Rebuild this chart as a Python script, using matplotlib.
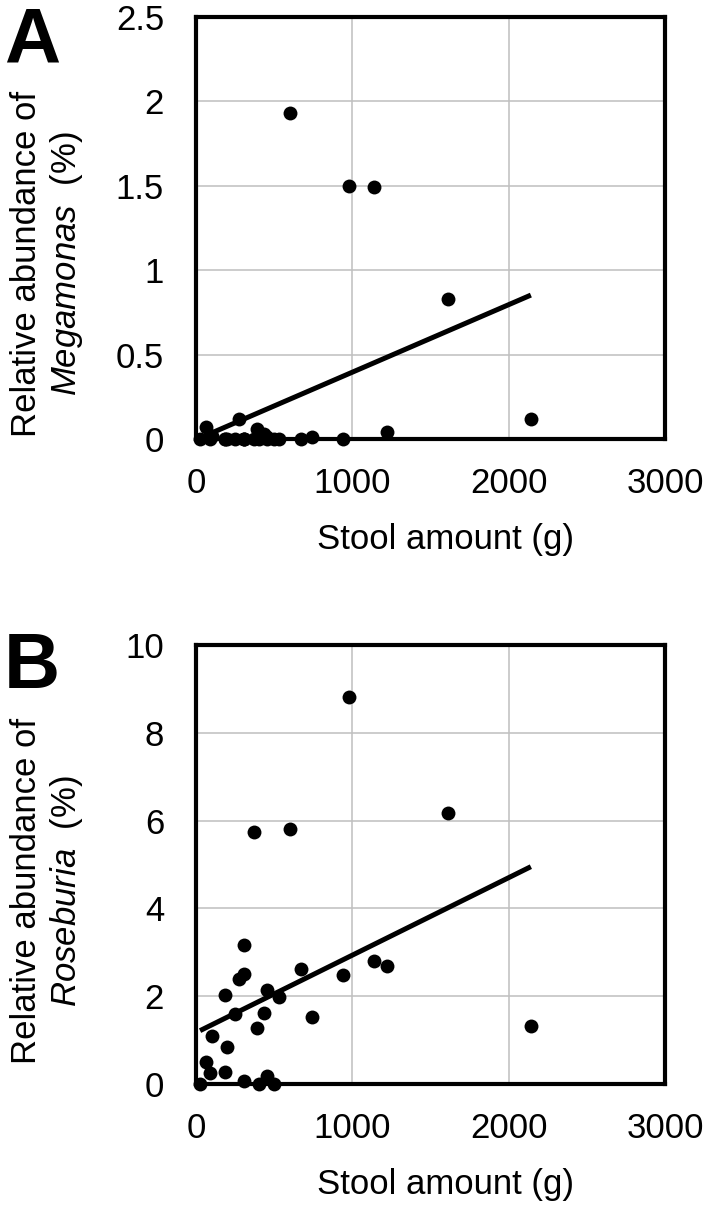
import numpy as np
import matplotlib

matplotlib.use("Agg")
import matplotlib.pyplot as plt

plt.rcParams["font.family"] = ["Liberation Sans", "DejaVu Sans"]
plt.rcParams["mathtext.fontset"] = "custom"
plt.rcParams["mathtext.it"] = "Liberation Sans:italic"
plt.rcParams["mathtext.rm"] = "Liberation Sans"

# stool amount (g), shared by both panels
stool_g = [26, 64, 90, 104, 183, 188, 200, 252, 272, 304, 307, 310, 368, 388, 403,
           432, 455, 455, 501, 533, 603, 670, 739, 939, 977, 1139, 1223, 1612, 2142]
# relative abundance (%) of Megamonas
megamonas = [0.0, 0.07, 0.0, 0.02, 0.0, 0.0, 0.0, 0.0, 0.12, 0.0, 0.0, 0.0, 0.0, 0.06, 0.0,
             0.03, 0.01, 0.0, 0.0, 0.0, 1.93, 0.0, 0.01, 0.0, 1.50, 1.49, 0.04, 0.83, 0.12]
# relative abundance (%) of Roseburia
roseburia = [0.0, 0.49, 0.25, 1.09, 2.03, 0.28, 0.85, 1.60, 2.40, 3.17, 0.07, 2.51, 5.73, 1.27, 0.0,
             1.62, 2.15, 0.19, 0.0, 1.99, 5.82, 2.63, 1.52, 2.49, 8.82, 2.81, 2.69, 6.17, 1.31]

x_ticks = [0, 1000, 2000, 3000]
a_ticks = [0, 0.5, 1, 1.5, 2, 2.5]
a_ticklabels = ["0", "0.5", "1", "1.5", "2", "2.5"]
b_ticks = [0, 2, 4, 6, 8, 10]

W, H = 708, 1216
FS = 25
fig = plt.figure(figsize=(W / 100, H / 100), dpi=100)


def panel(rect, y, yticks, yticklabels, genus, label_y):
    ax = fig.add_axes(rect)
    x = np.array(stool_g, dtype=float)
    y = np.array(y, dtype=float)
    ax.scatter(x, y, s=100, color="black", zorder=3, clip_on=False, linewidths=0)
    # linear trend line, as in the spreadsheet original
    k, b = np.polyfit(x, y, 1)
    xx = np.array([x.min(), x.max()])
    ax.plot(xx, k * xx + b, color="black", lw=3.6, zorder=4, solid_capstyle="butt")
    ax.set_xlim(0, 3000)
    ax.set_ylim(yticks[0], yticks[-1])
    ax.set_xticks(x_ticks)
    ax.set_xticklabels([str(t) for t in x_ticks])
    ax.set_yticks(yticks)
    ax.set_yticklabels(yticklabels)
    ax.tick_params(length=0, labelsize=FS, colors="black")
    ax.tick_params(axis="y", pad=23)
    ax.tick_params(axis="x", pad=20)
    ax.grid(True, color="#bfbfbf", lw=1.1)
    ax.set_axisbelow(True)
    for s in ax.spines.values():
        s.set_linewidth(3)
        s.set_color("black")
    h_px = rect[3] * H
    ax.set_xlabel("Stool amount (g)", fontsize=FS, va="top")
    ax.xaxis.set_label_coords(0.533, -84 / h_px)
    ax.set_ylabel("Relative abundance of\n$\\it{%s}$  (%%)" % genus, fontsize=FS,
                  multialignment="center", linespacing=1.2)
    ax.yaxis.set_label_coords(-0.236, label_y)
    return ax


ax_a = panel([196 / W, 1 - 439 / H, 469 / W, 422 / H], megamonas, a_ticks, a_ticklabels,
             "Megamonas", 0.415)
ax_b = panel([196 / W, 1 - 1084 / H, 469 / W, 439 / H], roseburia, b_ticks,
             [str(t) for t in b_ticks], "Roseburia", 0.44)

fig.text(4 / W, 1 - 63 / H, "A", fontsize=56, fontweight="bold", va="baseline", ha="left")
fig.text(4 / W, 1 - 688 / H, "B", fontsize=56, fontweight="bold", va="baseline", ha="left")

fig.savefig("out.png", dpi=100)
